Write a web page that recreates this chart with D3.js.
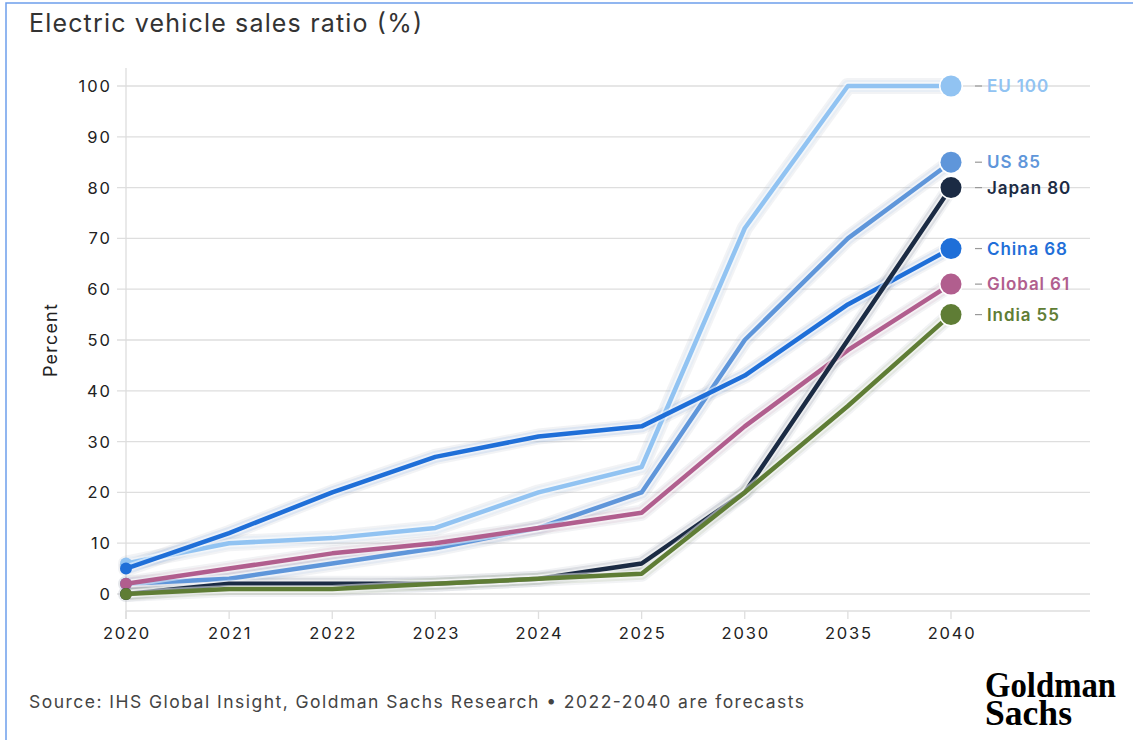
<!DOCTYPE html>
<html><head><meta charset="utf-8">
<script src="https://cdn.jsdelivr.net/npm/d3@7"></script>
<style>body{margin:0;background:#fff}svg{display:block}.t{font-family:Inter,"Open Sans",sans-serif}.logo{font-family:"Liberation Serif","DejaVu Serif",serif;font-weight:bold}</style>
</head><body><svg id="c" width="1133" height="740"></svg>
<script>
const years = ["2020","2021","2022","2023","2024","2025","2030","2035","2040"];
const yTicks = [0,10,20,30,40,50,60,70,80,90,100];
const seriesNames = ["EU","US","China","Global","Japan","India"];
const seriesColors = ["#91c3f2","#5f96da","#1f6fd8","#b15e8e","#1b2b44","#5f7d35"];
const euVals = [6,10,11,13,20,25,72,100,100];
const usVals = [2,3,6,9,13,20,50,70,85];
const chinaVals = [5,12,20,27,31,33,43,57,68];
const globalVals = [2,5,8,10,13,16,33,48,61];
const japanVals = [0,2,2,2,3,6,20,50,80];
const indiaVals = [0,1,1,2,3,4,20,37,55];
const allVals = [euVals,usVals,chinaVals,globalVals,japanVals,indiaVals];

const svg = d3.select("#c");
svg.append("rect").attr("x",6).attr("y",3).attr("width",1140).attr("height",750)
  .attr("fill","none").attr("stroke","#6d9eeb").attr("stroke-width",1.5);

const x = d3.scalePoint().domain(years).range([126,951]);
const y = d3.scaleLinear().domain([0,100]).range([594,86]);
const xEnd = 1090;

svg.append("text").attr("class","t").attr("x",29).attr("y",32).attr("font-size",25).attr("fill","#333")
  .attr("textLength",393).attr("lengthAdjust","spacing")
  .text("Electric vehicle sales ratio (%)");

const g = svg.append("g");
g.selectAll("line.grid").data(yTicks).join("line")
  .attr("x1",117).attr("x2",xEnd).attr("y1",d=>y(d)).attr("y2",d=>y(d))
  .attr("stroke","#dedede").attr("stroke-width",1.3);
g.append("line").attr("x1",126).attr("x2",xEnd).attr("y1",611).attr("y2",611).attr("stroke","#dedede").attr("stroke-width",1.3);
g.append("line").attr("x1",126).attr("x2",126).attr("y1",68).attr("y2",619).attr("stroke","#dedede").attr("stroke-width",1.3);
g.selectAll("line.xt").data(years).join("line")
  .attr("x1",d=>x(d)).attr("x2",d=>x(d)).attr("y1",611).attr("y2",619).attr("stroke","#dedede").attr("stroke-width",1.3);
g.selectAll("text.yl").data(yTicks).join("text").attr("class","t")
  .attr("x",112).attr("y",d=>y(d)+6).attr("text-anchor","end").attr("font-size",16.5).attr("fill","#222")
  .attr("letter-spacing",2)
  .text(d=>d);
g.selectAll("text.xl").data(years).join("text").attr("class","t")
  .attr("x",d=>x(d)+1).attr("y",639).attr("text-anchor","middle").attr("font-size",16.5).attr("fill","#222")
  .attr("letter-spacing",1.8)
  .text(d=>d);
svg.append("text").attr("class","t").attr("transform","translate(57,340) rotate(-90)").attr("text-anchor","middle")
  .attr("font-size",18).attr("fill","#222").attr("letter-spacing",1.2).text("Percent");

const line = d3.line().x((d,i)=>x(years[i])).y(d=>y(d));
allVals.forEach((vals,k)=>{
  svg.append("path").attr("d",line(vals)).attr("fill","none")
    .attr("stroke","#b8bec6").attr("stroke-opacity",0.18).attr("stroke-width",16)
    .attr("stroke-linejoin","round").attr("stroke-linecap","round");
  svg.append("path").attr("d",line(vals)).attr("fill","none")
    .attr("stroke",seriesColors[k]).attr("stroke-opacity",0.1).attr("stroke-width",12)
    .attr("stroke-linejoin","round").attr("stroke-linecap","round");
});
allVals.forEach((vals,k)=>{
  svg.append("path").attr("d",line(vals)).attr("fill","none")
    .attr("stroke","#fff").attr("stroke-opacity",0.5).attr("stroke-width",8)
    .attr("stroke-linejoin","round");
  svg.append("path").attr("d",line(vals)).attr("fill","none")
    .attr("stroke",seriesColors[k]).attr("stroke-width",4.5)
    .attr("stroke-linejoin","round");
  svg.append("circle").attr("cx",x(years[0])).attr("cy",y(vals[0])).attr("r",6).attr("fill",seriesColors[k]);
});
allVals.forEach((vals,k)=>{
  const v = vals[vals.length-1];
  const cx = x(years[years.length-1]), cy = y(v);
  svg.append("circle").attr("cx",cx).attr("cy",cy).attr("r",12).attr("fill","#fff");
  svg.append("circle").attr("cx",cx).attr("cy",cy).attr("r",10.5).attr("fill",seriesColors[k]);
  svg.append("line").attr("x1",975).attr("x2",982).attr("y1",cy).attr("y2",cy).attr("stroke","#999").attr("stroke-width",1.2);
  svg.append("text").attr("class","t").attr("x",987).attr("y",cy+6).attr("font-size",17).attr("font-weight",600)
    .attr("letter-spacing",0.9)
    .attr("fill",seriesColors[k]).text(seriesNames[k]+" "+v);
});

svg.append("text").attr("class","t").attr("x",29).attr("y",708).attr("font-size",17.5).attr("fill","#444")
  .attr("textLength",775).attr("lengthAdjust","spacing")
  .text("Source: IHS Global Insight, Goldman Sachs Research \u2022 2022-2040 are forecasts");
svg.append("text").attr("class","logo").attr("x",985).attr("y",697)
  .attr("font-size",36).attr("fill","#000").attr("textLength",131).attr("lengthAdjust","spacingAndGlyphs").text("Goldman");
svg.append("text").attr("class","logo").attr("x",985).attr("y",725)
  .attr("font-size",36).attr("fill","#000").attr("textLength",87).attr("lengthAdjust","spacingAndGlyphs").text("Sachs");
</script></body></html>
